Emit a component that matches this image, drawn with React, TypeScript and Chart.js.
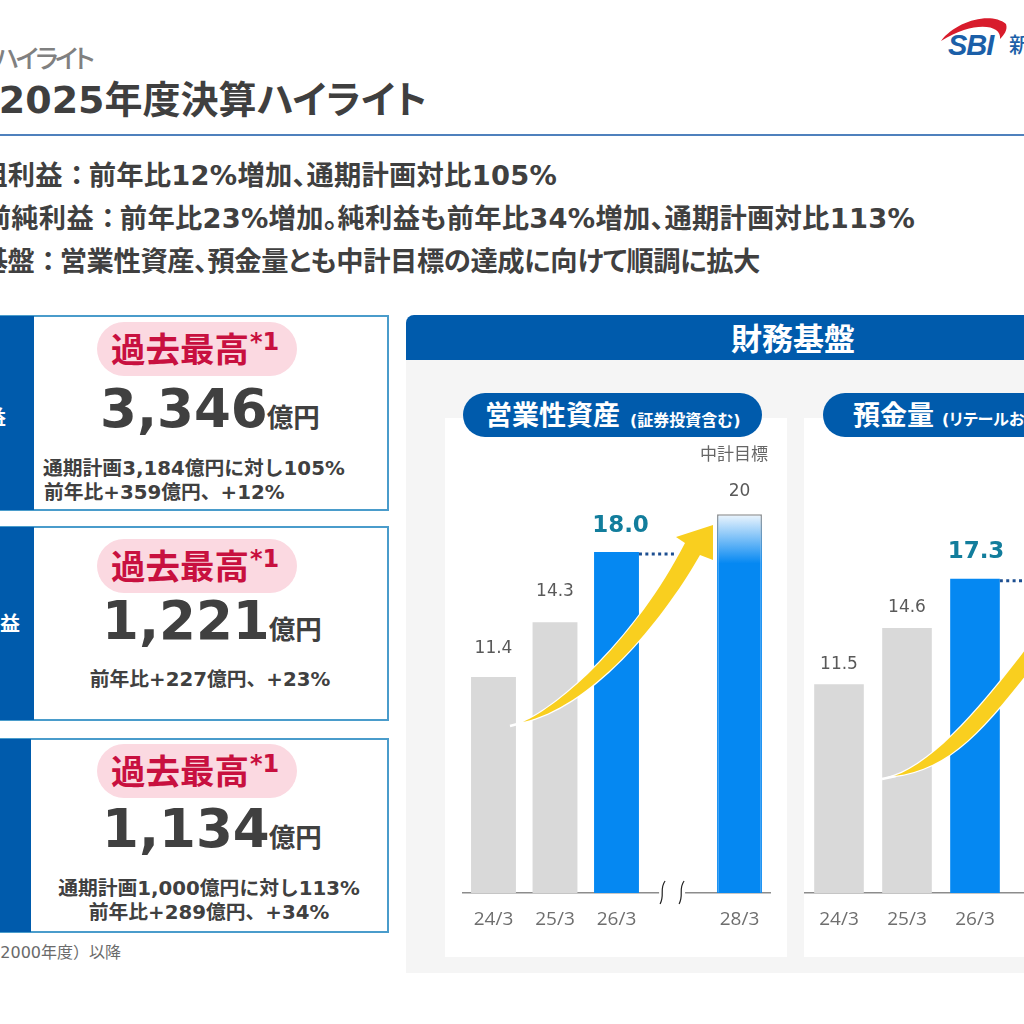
import { useEffect, useRef, type ReactNode } from "react"
import { Chart, registerables } from "chart.js"

Chart.register(...registerables)

const assetCategories = ["24/3", "25/3", "26/3", "", "28/3"]
const assetValues = [11.4, 14.3, 18.0, null, 20]
const assetLabels = ["11.4", "14.3", "18.0", "", "20"]

const depositCategories = ["24/3", "25/3", "26/3", "", ""]
const depositValues = [11.5, 14.6, 17.3, null, null]
const depositLabels = ["11.5", "14.6", "17.3", "", ""]

const NAVY = "#005bac"
const BLUE = "#0588f2"
const GREY = "#d9d9d9"
const CJK = '"DejaVu Sans", "Noto Sans CJK JP", sans-serif'
const barColors = [GREY, GREY, BLUE, BLUE, BLUE]

interface ChartSetup {
  left: number
  top: number
  categories: string[]
  values: (number | null)[]
  labels: string[]
  labelGaps: number[]
  strongShift: number
  padLeft: number
  padRight: number
  padTop: number
  arrow: string
  tail: number[]
  hasBreak: boolean
}

const assetSetup: ChartSetup = {
  left: 445,
  top: 440,
  categories: assetCategories,
  values: assetValues,
  labels: assetLabels,
  labelGaps: [28, 31, 26, 0, 23],
  strongShift: 4,
  padLeft: 17.75,
  padRight: 16.75,
  padTop: 36.3,
  arrow: "M523 722 C560 706 635 640 685 543 L676 537 L713 525 L713 560 L700 555 C660 625 590 707 523 722 Z",
  tail: [510, 726, 525, 722],
  hasBreak: true,
}

const depositSetup: ChartSetup = {
  left: 804,
  top: 440,
  categories: depositCategories,
  values: depositValues,
  labels: depositLabels,
  labelGaps: [20, 20, 27, 0, 0],
  strongShift: 1,
  padLeft: 1,
  padRight: 1,
  padTop: 53.5,
  arrow: "M894 776 C935 762 985 705 1040 630 L1040 657 C985 728 950 770 894 776 Z",
  tail: [882, 779, 896, 776],
  hasBreak: false,
}

// dotted line, axis break, arrow and value labels go on top of the bars
function overlayPlugin(setup: ChartSetup) {
  return {
    id: "overlay",
    afterDatasetsDraw(chart: any) {
      const { ctx, scales } = chart
      const bars = chart.getDatasetMeta(0).data
      const base = scales.y.getPixelForValue(0)

      ctx.save()
      ctx.strokeStyle = "#1d4f91"
      ctx.lineWidth = 3
      ctx.setLineDash([3, 3.4])
      ctx.beginPath()
      ctx.moveTo(bars[2].x + bars[2].width / 2, bars[2].y + 2)
      ctx.lineTo(scales.x.getPixelForValue(3) - 2, bars[2].y + 2)
      ctx.stroke()
      ctx.restore()

      if (setup.hasBreak) {
        const cx = scales.x.getPixelForValue(2.92)
        ctx.save()
        ctx.fillStyle = "#fff"
        ctx.fillRect(cx - 14, base - 2, 26, 4)
        ctx.strokeStyle = "#222"
        ctx.lineWidth = 1.2
        for (const shift of [0, 19]) {
          ctx.beginPath()
          ctx.moveTo(cx - 8 + shift, base - 12)
          ctx.bezierCurveTo(cx - 14 + shift, base - 4, cx - 8 + shift, base + 2, cx - 13 + shift, base + 11)
          ctx.stroke()
        }
        ctx.restore()
      }

      ctx.save()
      ctx.translate(-setup.left, -setup.top)
      const arrow = new Path2D(setup.arrow)
      ctx.strokeStyle = "#fff"
      ctx.lineWidth = 2.5
      ctx.stroke(arrow)
      ctx.beginPath()
      ctx.moveTo(setup.tail[0], setup.tail[1])
      ctx.lineTo(setup.tail[2], setup.tail[3])
      ctx.stroke()
      ctx.fillStyle = "#f9cf1f"
      ctx.fill(arrow)
      ctx.restore()

      ctx.save()
      ctx.textAlign = "center"
      ctx.textBaseline = "middle"
      setup.labels.forEach((label, i) => {
        if (!label) return
        const strong = i === 2
        ctx.font = strong ? "bold 23px 'DejaVu Sans'" : "17px 'DejaVu Sans'"
        ctx.fillStyle = strong ? "#127d9c" : "#595959"
        ctx.fillText(label, bars[i].x + (strong ? setup.strongShift : 0), bars[i].y - setup.labelGaps[i])
      })
      ctx.restore()
    },
  }
}

function BarPanel({ setup }: { setup: ChartSetup }) {
  const chartRef = useRef<HTMLCanvasElement>(null)

  useEffect(() => {
    if (!chartRef.current) return

    const targetGradient = (chart: any, from: string, to: string) => {
      const y = chart.scales.y
      if (!y) return to
      const gradient = chart.ctx.createLinearGradient(0, y.getPixelForValue(20), 0, y.getPixelForValue(17.4))
      gradient.addColorStop(0, from)
      gradient.addColorStop(1, to)
      return gradient
    }

    const chart = new Chart(chartRef.current, {
      type: "bar",
      data: {
        labels: setup.categories,
        datasets: [
          {
            data: setup.values,
            backgroundColor: (c: any) =>
              c.dataIndex === 4 ? targetGradient(c.chart, "#eef6fd", BLUE) : barColors[c.dataIndex],
            borderColor: (c: any) => (c.dataIndex === 4 ? targetGradient(c.chart, "#8f8f8f", BLUE) : "transparent"),
            borderWidth: (c: any) => (c.dataIndex === 4 ? 1.5 : 0),
            borderSkipped: "bottom",
            barPercentage: 0.73,
            categoryPercentage: 1,
          },
        ],
      },
      options: {
        responsive: false,
        animation: false,
        layout: { padding: { left: setup.padLeft, right: setup.padRight, top: setup.padTop, bottom: 0 } },
        plugins: { legend: { display: false }, tooltip: { enabled: false } },
        scales: {
          x: {
            afterFit: (scale: any) => {
              scale.height = 64
            },
            grid: { display: false, drawTicks: false },
            border: { display: true, color: "#8c8c8c", width: 1.5 },
            ticks: {
              autoSkip: false,
              maxRotation: 0,
              padding: 15,
              color: "#6e6e6e",
              font: { family: "'Open Sans'", size: 19 },
            },
          },
          y: { display: false, min: 0, max: 22 },
        },
      },
      plugins: [overlayPlugin(setup)],
    })

    return () => chart.destroy()
  }, [setup])

  return (
    <canvas
      ref={chartRef}
      width={342}
      height={517}
      style={{ position: "absolute", left: setup.left, top: setup.top, display: "block" }}
    />
  )
}

interface TextProps {
  x: number
  y: number
  size: number
  color?: string
  weight?: number
  anchor?: "start" | "middle" | "end"
  spacing?: number
  palt?: boolean
  children: ReactNode
}

function T({ x, y, size, color = "#404040", weight = 700, anchor = "start", spacing = 0, palt = true, children }: TextProps) {
  const shift = anchor === "start" ? "0" : anchor === "middle" ? "-50%" : "-100%"
  return (
    <div
      style={{
        position: "absolute",
        left: x,
        top: y,
        transform: `translate(${shift}, -50%)`,
        fontFamily: CJK,
        fontFeatureSettings: palt ? '"palt"' : undefined,
        fontSize: size,
        fontWeight: weight,
        color,
        letterSpacing: spacing,
        lineHeight: 1,
        whiteSpace: "nowrap",
      }}
    >
      {children}
    </div>
  )
}

function Colon() {
  return <span style={{ margin: "0 5px 0 7px" }}>：</span>
}

function Box({ top, height, navy }: { top: number; height: number; navy: number }) {
  return (
    <div
      style={{
        position: "absolute",
        left: 0,
        top,
        width: 389,
        height,
        boxSizing: "border-box",
        border: "2px solid #4a9ccb",
        borderLeft: "none",
      }}
    >
      <div style={{ position: "absolute", left: 0, top: -1, bottom: -1, width: navy, background: NAVY }} />
    </div>
  )
}

function Record({ top, textY }: { top: number; textY: number }) {
  return (
    <>
      <div
        style={{
          position: "absolute",
          left: 97,
          top,
          width: 200,
          height: 54,
          borderRadius: 27,
          background: "#fbd9e1",
        }}
      />
      <T x={111} y={textY} size={34.5} color="#c8103f" palt={false}>
        過去最高
      </T>
      <T x={250} y={textY - 8} size={24} color="#c8103f">
        *1
      </T>
    </>
  )
}

function Amount({ x, y, value }: { x: number; y: number; value: string }) {
  return (
    <T x={x} y={y} size={53}>
      {value}
      <span style={{ fontSize: 26.5, marginLeft: -1 }}>億円</span>
    </T>
  )
}

export default function App() {
  return (
    <div
      style={{
        position: "absolute",
        left: 0,
        top: 0,
        width: 1024,
        height: 1024,
        overflow: "hidden",
        background: "#fff",
      }}
    >
      <T x={92} y={59} size={26} color="#808080" weight={500} anchor="end" spacing={-3}>
        ハイライト
      </T>
      <T x={427} y={100} size={38} color="#3f3f3f" anchor="end">
        2025年度決算ハイライト
      </T>
      <div style={{ position: "absolute", left: 0, top: 134, width: 1024, height: 2, background: "#4f81bd" }} />

      <T x={557} y={176} size={27.3} anchor="end" spacing={0.25}>
        粗利益
        <Colon />
        前年比12%増加、通期計画対比105%
      </T>
      <T x={915} y={219} size={27.3} anchor="end" spacing={0.25}>
        前純利益
        <Colon />
        前年比23%増加。純利益も前年比34%増加、通期計画対比113%
      </T>
      <T x={760} y={262} size={27.3} anchor="end" spacing={-0.4}>
        基盤
        <Colon />
        営業性資産、預金量とも中計目標の達成に向けて順調に拡大
      </T>

      <svg width={1024} height={70} style={{ position: "absolute", left: 0, top: 0 }}>
        <path d="M941 41 C955 22 990 11 1006 24 C1008 30 1004 35 1000 39 C1002 25 975 20 941 41 Z" fill="#d81c2c" />
      </svg>
      <div
        style={{
          position: "absolute",
          left: 948,
          top: 31,
          fontFamily: '"Liberation Sans", sans-serif',
          fontSize: 29,
          fontWeight: 700,
          fontStyle: "italic",
          color: "#1b5fa8",
          letterSpacing: -1,
          lineHeight: 1,
        }}
      >
        SBI
      </div>
      <T x={1009} y={45} size={21} color="#1b5fa8" weight={500}>
        新
      </T>

      <Box top={315} height={196} navy={34} />
      <Box top={526} height={195} navy={34} />
      <Box top={738} height={195} navy={31} />
      <T x={6} y={418} size={20} color="#fff" anchor="end">
        益
      </T>
      <T x={20} y={624} size={20} color="#fff" anchor="end">
        益
      </T>

      <Record top={322} textY={350} />
      <Amount x={100} y={408} value="3,346" />
      <T x={43} y={469} size={19.8} palt={false}>
        通期計画3,184億円に対し105%
      </T>
      <T x={44} y={493} size={19.8} palt={false}>
        前年比+359億円、+12%
      </T>

      <Record top={539} textY={567} />
      <Amount x={102} y={620} value="1,221" />
      <T x={210} y={680} size={19.8} anchor="middle" palt={false}>
        前年比+227億円、+23%
      </T>

      <Record top={744} textY={772} />
      <Amount x={102} y={828} value="1,134" />
      <T x={209} y={889} size={19.8} anchor="middle" palt={false}>
        通期計画1,000億円に対し113%
      </T>
      <T x={209} y={913} size={19.8} anchor="middle" palt={false}>
        前年比+289億円、+34%
      </T>

      <T x={121} y={953} size={16} color="#6a6a6a" weight={400} anchor="end" palt={false}>
        2000年度）以降
      </T>

      <div style={{ position: "absolute", left: 406, top: 360, width: 618, height: 613, background: "#f5f5f5" }} />
      <div
        style={{
          position: "absolute",
          left: 406,
          top: 315,
          width: 618,
          height: 45,
          background: NAVY,
          borderTopLeftRadius: 8,
        }}
      />
      <T x={793} y={339} size={31} color="#fff" anchor="middle" palt={false}>
        財務基盤
      </T>

      <div style={{ position: "absolute", left: 445, top: 418, width: 342, height: 539, background: "#fff" }} />
      <div style={{ position: "absolute", left: 804, top: 418, width: 220, height: 539, background: "#fff" }} />

      <BarPanel setup={assetSetup} />
      <BarPanel setup={depositSetup} />

      <div
        style={{ position: "absolute", left: 463, top: 393, width: 299, height: 44, borderRadius: 22, background: NAVY }}
      />
      <T x={485} y={415} size={27} color="#fff" palt={false}>
        営業性資産
      </T>
      <T x={630} y={421} size={16} color="#fff">
        (証券投資含む)
      </T>
      <div
        style={{ position: "absolute", left: 823, top: 393, width: 300, height: 44, borderRadius: 22, background: NAVY }}
      />
      <T x={853} y={415} size={27} color="#fff" palt={false}>
        預金量
      </T>
      <T x={942} y={420} size={16} color="#fff">
        (リテールおよ
      </T>

      <T x={734} y={454} size={17} color="#666" weight={400} anchor="middle" palt={false}>
        中計目標
      </T>
    </div>
  )
}
